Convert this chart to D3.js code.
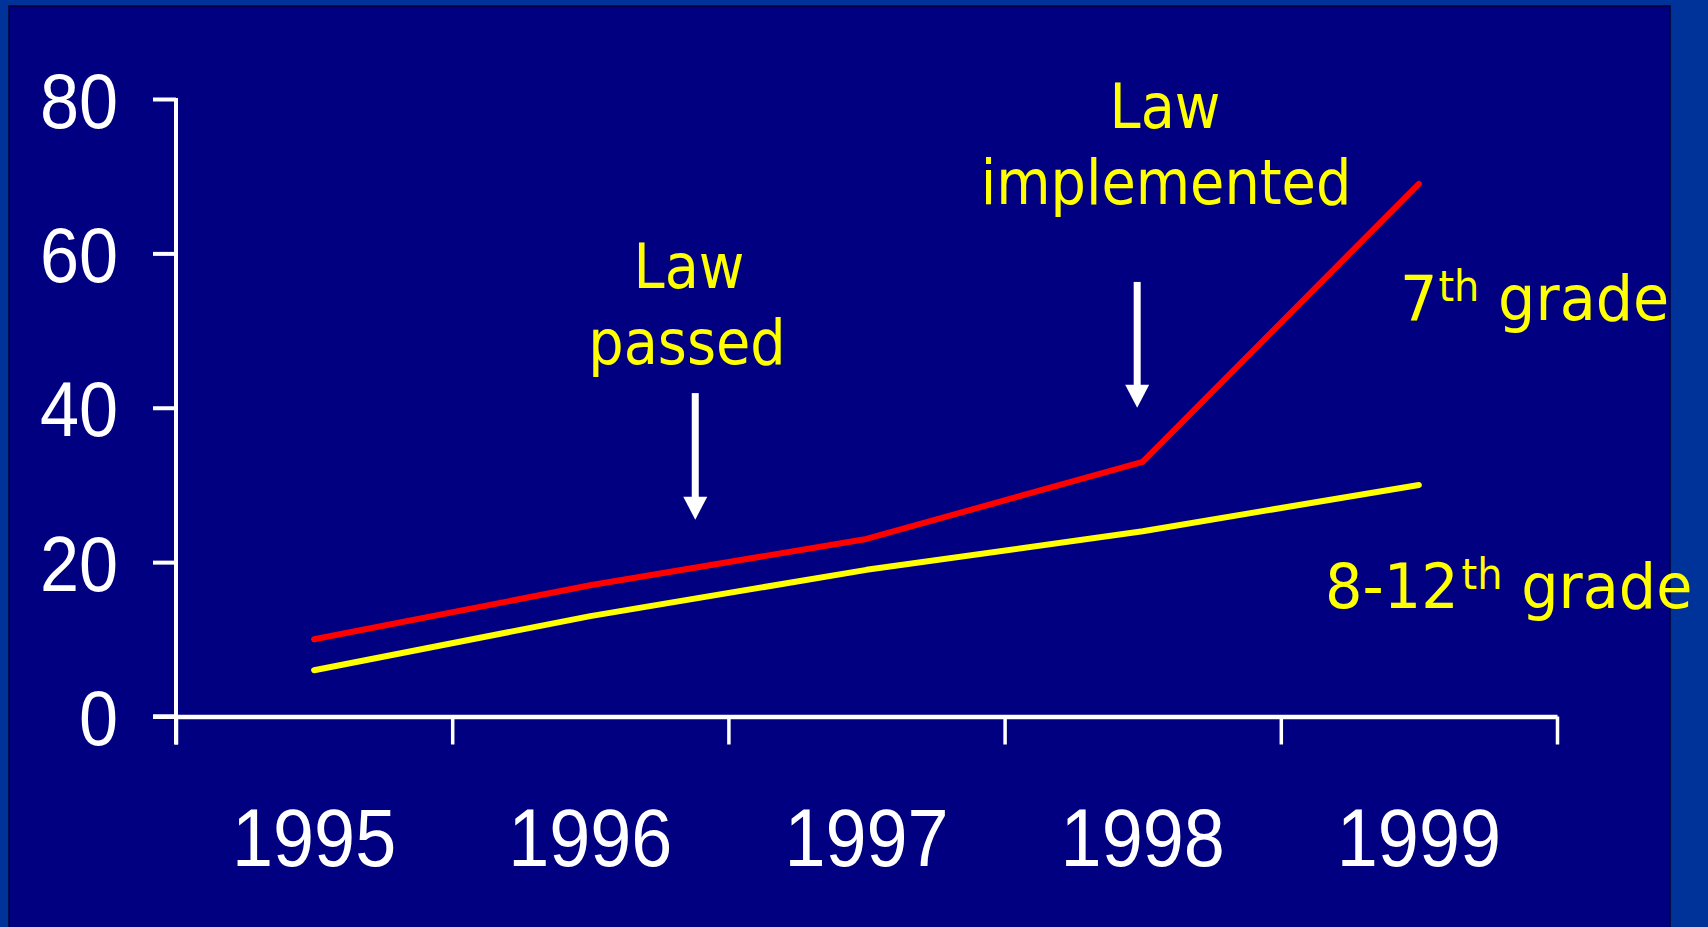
<!DOCTYPE html>
<html>
<head>
<meta charset="utf-8">
<script src="https://cdn.jsdelivr.net/npm/d3@7"></script>
<style>
  html, body { margin: 0; padding: 0; background: #003399; overflow: hidden; }
  svg { display: block; }
</style>
</head>
<body>
<svg id="chart" width="1708" height="927"></svg>
<script>
// ---- data ----
const years = ["1995", "1996", "1997", "1998", "1999"];
const grade7 = [10, 17, 23, 33, 69];
const grade8to12 = [6, 13, 19, 24, 30];
const yTicks = [0, 20, 40, 60, 80];
const seriesLabels = ["7th grade", "8-12th grade"];
const annotationLines = [["Law", "passed"], ["Law", "implemented"]];
// arrow positions in data units: [year position, from value, to value]
const arrowYearPos = [1996.38, 1997.98];
const arrowFrom = [41.9, 56.3];
const arrowTo = [25.5, 40.0];

(function () {
// ---- layout ----
const svg = d3.select("#chart");
const W = 1708, H = 927;
const mLeft = 176, mRight = 1557, mTop = 99, mBottom = 716.5;
const hScale = 0.9;

svg.append("rect").attr("x", 0).attr("y", 0).attr("width", W).attr("height", H).attr("fill", "#003399");
svg.append("rect").attr("x", 9).attr("y", 6).attr("width", 1661).attr("height", 930)
  .attr("fill", "#000080").attr("stroke", "#000033").attr("stroke-width", 1.5);

const x = d3.scaleBand().domain(years).range([mLeft, mRight]).padding(0);
const xc = d => x(d) + x.bandwidth() / 2;
const xYear = d3.scaleLinear().domain([1995, 1999]).range([xc("1995"), xc("1999")]);
const xEdge = d3.scaleLinear().domain([0, years.length]).range([mLeft, mRight]);
const y = d3.scaleLinear().domain([0, 80]).range([mBottom, mTop]);

// y axis
const yAxis = svg.append("g").attr("transform", `translate(${mLeft},0)`)
  .call(d3.axisLeft(y).tickValues(yTicks).tickSize(23).tickSizeOuter(0).tickPadding(0));
yAxis.select(".domain").remove();
yAxis.selectAll(".tick line").attr("stroke", "#fff").attr("stroke-width", 4);
yAxis.selectAll(".tick text")
  .attr("fill", "#fff").attr("font-family", "'Liberation Sans', Arial, sans-serif")
  .attr("font-size", 78).attr("text-anchor", "end")
  .attr("x", -58 / hScale).attr("dy", "0.36em")
  .attr("transform", `scale(${hScale},1)`);
svg.append("line").attr("x1", mLeft).attr("x2", mLeft).attr("y1", y(80) - 1).attr("y2", mBottom + 28)
  .attr("stroke", "#fff").attr("stroke-width", 4);

// x axis (ticks at band edges)
const xAxis = svg.append("g").attr("transform", `translate(0,${mBottom})`)
  .call(d3.axisBottom(xEdge).tickValues(d3.range(years.length + 1))
    .tickSize(28).tickSizeOuter(0).tickFormat(""));
xAxis.select(".domain").attr("stroke", "#fff").attr("stroke-width", 4.5);
xAxis.selectAll(".tick line").attr("stroke", "#fff").attr("stroke-width", 3.5);
svg.append("line").attr("x1", mLeft - 23).attr("x2", mLeft).attr("y1", mBottom).attr("y2", mBottom)
  .attr("stroke", "#fff").attr("stroke-width", 4.5);

// year labels
const xLab = svg.append("g").attr("transform", `translate(0,866)`)
  .call(d3.axisBottom(x).tickSize(0).tickPadding(0));
xLab.select(".domain").remove();
xLab.selectAll(".tick text")
  .attr("fill", "#fff").attr("font-family", "'Liberation Sans', Arial, sans-serif")
  .attr("font-size", 82).attr("y", 0).attr("dy", null)
  .attr("transform", `scale(${hScale},1)`);

// lines
const line = d3.line().x((d, i) => xc(years[i])).y(d => y(d));
svg.append("path").datum(grade8to12).attr("d", line).attr("fill", "none")
  .attr("stroke", "#ffff00").attr("stroke-width", 6).attr("stroke-linecap", "round").attr("stroke-linejoin", "round");
svg.append("path").datum(grade7).attr("d", line).attr("fill", "none")
  .attr("stroke", "#ff0000").attr("stroke-width", 6).attr("stroke-linecap", "round").attr("stroke-linejoin", "round");

// arrows
arrowYearPos.forEach((yp, i) => {
  const ax = xYear(yp), y0 = y(arrowFrom[i]), y1 = y(arrowTo[i]);
  const headH = 23, headW = 12;
  svg.append("line").attr("x1", ax).attr("x2", ax).attr("y1", y0).attr("y2", y1 - headH + 1)
    .attr("stroke", "#fff").attr("stroke-width", 7);
  svg.append("path")
    .attr("d", `M${ax - headW},${y1 - headH} L${ax + headW},${y1 - headH} L${ax},${y1} Z`)
    .attr("fill", "#fff");
});

// annotation text
const annFont = "'DejaVu Sans', Verdana, sans-serif";
function addText(txt, cx, by, size, anchor) {
  return svg.append("text")
    .attr("transform", `translate(${cx},${by}) scale(${hScale},1)`)
    .attr("text-anchor", anchor || "middle")
    .attr("font-family", annFont).attr("font-size", size).attr("fill", "#ffff00")
    .text(txt);
}
addText(annotationLines[0][0], 689, 288, 62);
addText(annotationLines[0][1], 687, 364, 62);
addText(annotationLines[1][0], 1165, 128, 62);
addText(annotationLines[1][1], 1166, 204, 62);

// series labels with superscripts
function seriesLabel(label, sx, by, supDx) {
  const m = label.match(/^(.*?)(th)( .*)$/);
  const t = svg.append("text")
    .attr("transform", `translate(${sx},${by}) scale(0.95,1)`)
    .attr("font-family", annFont).attr("fill", "#ffff00").attr("font-size", 62);
  t.append("tspan").text(m[1]);
  t.append("tspan").attr("font-size", 42).attr("dy", -19).attr("dx", supDx).text(m[2]);
  t.append("tspan").attr("font-size", 62).attr("dy", 19).text(m[3]);
}
seriesLabel(seriesLabels[0], 1400, 320, 1);
seriesLabel(seriesLabels[1], 1325, 608, 3);
})();
</script>
</body>
</html>
